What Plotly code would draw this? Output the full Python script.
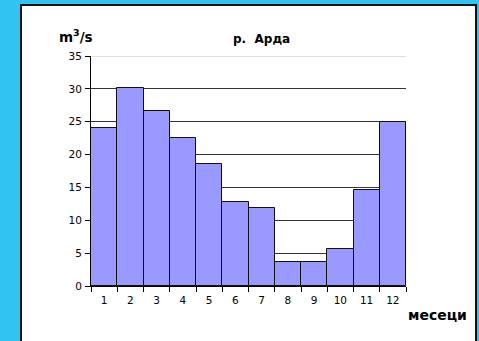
import plotly.graph_objects as go

months = ["1", "2", "3", "4", "5", "6", "7", "8", "9", "10", "11", "12"]
flow = [24.0, 30.1, 26.7, 22.5, 18.5, 12.8, 11.8, 3.6, 3.6, 5.7, 14.6, 25.0]
y_ticks = [0, 5, 10, 15, 20, 25, 30, 35]

FONT = "DejaVu Sans, Arial, sans-serif"

fig = go.Figure(go.Bar(
    x=months, y=flow,
    marker=dict(color="#9999ff", line=dict(color="#111111", width=1)),
    width=1,
))

L, R, T, B = 91, 73, 56, 55
W, H = 479, 341
pw, ph = W - L - R, H - T - B

def px(x):
    return (x - L) / pw

def py(y):
    return (H - B - y) / ph

fig.update_layout(
    width=W, height=H,
    margin=dict(l=L, r=R, t=T, b=B, pad=0),
    paper_bgcolor="#31c3f2",
    plot_bgcolor="white",
    bargap=0,
    showlegend=False,
    font=dict(family=FONT, size=10, color="black"),
    xaxis=dict(
        type="category", tickson="boundaries", ticks="outside", ticklen=5,
        tickcolor="black", showline=True, linecolor="black", linewidth=1,
        showgrid=False, tickfont=dict(size=10.5), ticklabelstandoff=4,
    ),
    yaxis=dict(
        range=[0, 35], tickvals=y_ticks, ticks="outside", ticklen=5,
        tickcolor="black", showline=True, linecolor="black", linewidth=1,
        showgrid=True, gridcolor="#333333", gridwidth=1, zeroline=False,
        tickfont=dict(size=10.5), ticklabelstandoff=1,
    ),
    shapes=[
        dict(type="rect", xref="paper", yref="paper", layer="below",
             x0=px(21), x1=px(476), y0=py(346), y1=py(5),
             fillcolor="white", line=dict(color="#111111", width=2)),
        dict(type="line", xref="paper", yref="y", layer="above",
             x0=0.003, x1=1, y0=35, y1=35,
             line=dict(color="#d4d4d4", width=1.5)),
    ],
    annotations=[
        dict(text="<b>m<sup>3</sup>/s</b>", xref="paper", yref="paper",
             x=px(57), y=py(36), xanchor="left", yanchor="middle",
             showarrow=False, font=dict(size=13.5, family=FONT)),
        dict(text="<b>р.  Арда</b>", xref="paper", yref="paper",
             x=px(261), y=py(39), xanchor="center", yanchor="middle",
             showarrow=False, font=dict(size=12, family=FONT)),
        dict(text="<b>месеци</b>", xref="paper", yref="paper",
             x=px(437), y=py(315), xanchor="center", yanchor="middle",
             showarrow=False, font=dict(size=14, family=FONT)),
    ],
)

fig.write_html("out.html", config={"displayModeBar": False},
               post_script="document.body.style.margin='0';")
